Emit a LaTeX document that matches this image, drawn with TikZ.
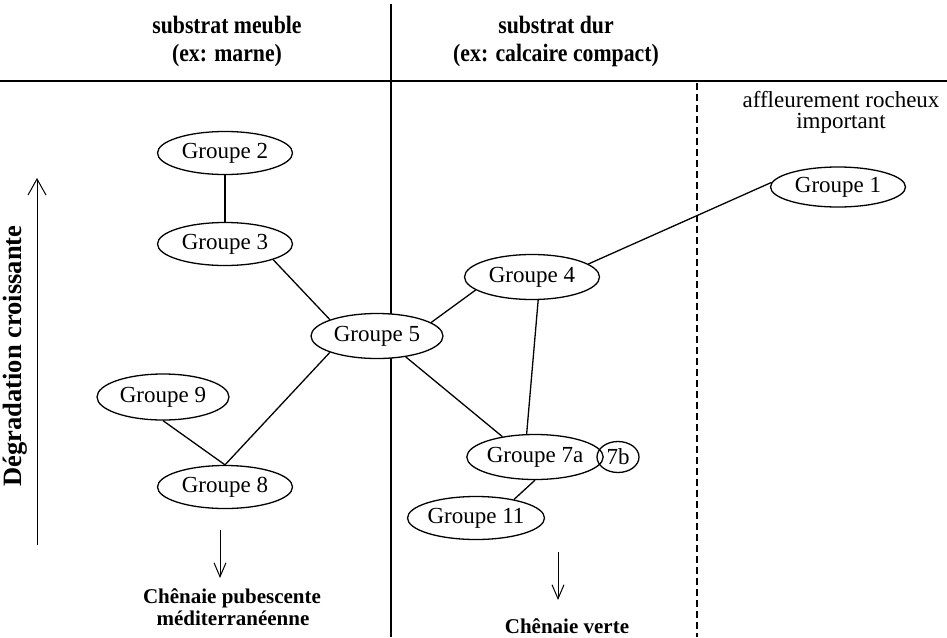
\documentclass[tikz,border=0pt]{standalone}
\usepackage{fontspec}
\setmainfont{Liberation Serif}
\newfontfamily\headfont[FakeStretch=0.87]{Liberation Serif}
\usetikzlibrary{shapes.geometric,arrows.meta}
\begin{document}
\begin{tikzpicture}[x=1pt, y=-1pt, line width=1.3pt,
  groupe/.style={ellipse, draw, fill=white, inner sep=0pt,
    minimum width=135pt, minimum height=43pt,
    font=\fontsize{23}{26}\selectfont},
  entete/.style={anchor=base, font=\headfont\bfseries\fontsize{25}{28}\selectfont},
  legende/.style={anchor=base, font=\fontsize{23}{26}\selectfont},
  chenaie/.style={anchor=base, font=\bfseries\fontsize{21}{24}\selectfont},
  fleche/.style={-{Straight Barb[length=14pt,width=12pt]}, line width=1pt}]
  \useasboundingbox (0,0) rectangle (947,637);
  % colonnes
  \draw (0,81) -- (947,81);
  \draw (391,4) -- (391,637);
  \draw[dash pattern=on 7pt off 4pt] (697,83) -- (697,637);
  \node[entete] (meuble) at (227,33) {substrat meuble};
  \node[entete] (marne) at (227,61) {(ex: marne)};
  \node[entete] (dur) at (556,33) {substrat dur};
  \node[entete] (calcaire) at (556,61) {(ex: calcaire compact)};
  \node[legende] (affl) at (841,107) {affleurement rocheux};
  \node[legende] (impt) at (841,128) {important};
  % axe
  \coordinate (axebas) at (37,545);
  \coordinate (axehaut) at (37,178);
  \draw[-{Straight Barb[length=16pt,width=18pt]}, line width=1pt] (axebas) -- (axehaut);
  \node[rotate=90, font=\bfseries\fontsize{26.5}{30}\selectfont] (degr) at (15,356) {Dégradation croissante};
  % groupes
  \node[groupe] (g2) at (225,153) {Groupe 2};
  \node[groupe] (g3) at (225,244) {Groupe 3};
  \node[groupe, minimum width=132pt, minimum height=45pt] (g5) at (377,336) {Groupe 5};
  \node[groupe, minimum width=132pt, minimum height=46pt] (g9) at (163,397) {Groupe 9};
  \node[groupe] (g8) at (225,487) {Groupe 8};
  \node[groupe, minimum height=45pt] (g4) at (532,277) {Groupe 4};
  \node[groupe, minimum height=40pt] (g1) at (838,187) {Groupe 1};
  \node[groupe, minimum width=130pt, minimum height=45pt] (g7a) at (535,457) {Groupe 7a};
  \node[groupe, fill=none, minimum width=42pt, minimum height=31pt] (g7b) at (618,457) {7b};
  \node[groupe] (g11) at (476,518) {Groupe 11};
  % liens
  \draw (g2.south) -- (g3.north);
  \draw (g3.south east) -- (g5.north west);
  \draw (g5.south west) -- (g8.north);
  \draw (g9.south) -- (g8.north);
  \draw (g5.14) -- (g4.193);
  \draw (g5.-36) -- (g7a.148);
  \draw (g4.-75) -- (g7a.110);
  \draw (g4.13) -- (g1.176);
  \draw (g7a.south) -- (g11.26);
  % vers les chenaies
  \coordinate (f8h) at (220,530);
  \coordinate (f8b) at (220,578);
  \draw[fleche] (f8h) -- (f8b);
  \coordinate (fvh) at (558,552);
  \coordinate (fvb) at (558,600);
  \draw[fleche] (fvh) -- (fvb);
  \node[chenaie] (pub) at (232,603) {Chênaie pubescente};
  \node[chenaie] (medit) at (233,625) {méditerranéenne};
  \node[chenaie] (verte) at (567,633) {Chênaie verte};
\end{tikzpicture}
\end{document}
